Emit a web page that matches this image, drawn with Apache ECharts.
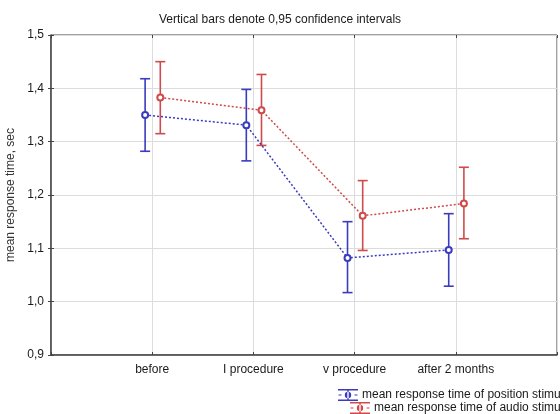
<!DOCTYPE html>
<html>
<head>
<meta charset="utf-8">
<script src="https://cdn.jsdelivr.net/npm/echarts@6/dist/echarts.min.js"></script>
<style>
html,body{margin:0;padding:0;background:#fff;}
#chart{width:560px;height:414px;}
</style>
</head>
<body>
<div id="chart"></div>
<script>
// ---- data ----
var categories = ['before', 'I procedure', 'v procedure', 'after 2 months'];
var positionMean = [1.350, 1.331, 1.082, 1.097];
var positionLow  = [1.282, 1.264, 1.017, 1.029];
var positionHigh = [1.418, 1.398, 1.150, 1.165];
var audioMean = [1.383, 1.359, 1.161, 1.184];
var audioLow  = [1.315, 1.293, 1.096, 1.118];
var audioHigh = [1.450, 1.426, 1.227, 1.252];
var yTicks = [0.9, 1.0, 1.1, 1.2, 1.3, 1.4, 1.5];
var seriesNames = ['mean response time of position stimuli', 'mean response time of audio stimuli'];

var BLUE = '#3b3bbf';
var RED = '#cf4a4a';
var FONT = '"Liberation Sans", Arial, sans-serif';
var OFF_POS = -0.07, OFF_AUD = 0.08;

function pts(means, off) {
  return means.map(function (v, i) { return [i + 1 + off, v]; });
}
function bars(lo, hi, off) {
  return lo.map(function (v, i) { return [i + 1 + off, v, hi[i]]; });
}
function errRender(color) {
  return function (params, api) {
    var x = api.value(0);
    var p1 = api.coord([x, api.value(1)]);
    var p2 = api.coord([x, api.value(2)]);
    var hw = 5;
    var st = { stroke: color, lineWidth: 1.6 };
    return {
      type: 'group',
      children: [
        { type: 'line', shape: { x1: p1[0], y1: p1[1], x2: p2[0], y2: p2[1] }, style: st },
        { type: 'line', shape: { x1: p1[0] - hw, y1: p1[1], x2: p1[0] + hw, y2: p1[1] }, style: st },
        { type: 'line', shape: { x1: p2[0] - hw, y1: p2[1], x2: p2[0] + hw, y2: p2[1] }, style: st }
      ]
    };
  };
}

var ICON = 'path://M0,0H20V1.4H0Z M0,10.6H20V12H0Z M9.3,0H10.7V12H9.3Z M0.5,5.4H3.5V6.6H0.5Z M16.5,5.4H19.5V6.6H16.5Z M6.8,6A3.2,3.2 0 1,0 13.2,6A3.2,3.2 0 1,0 6.8,6Z';

var chart = echarts.init(document.getElementById('chart'), null, { renderer: 'canvas' });
chart.setOption({
  animation: false,
  backgroundColor: '#fff',
  textStyle: { fontFamily: FONT },
  title: {
    text: 'Vertical bars denote 0,95 confidence intervals',
    left: 'center',
    top: 9,
    textStyle: { fontSize: 12, fontWeight: 'normal', color: '#1a1a1a', fontFamily: FONT }
  },
  legend: [
    {
      data: [{ name: seriesNames[0], itemStyle: { color: BLUE, borderWidth: 0 } }],
      left: 338, top: 389, icon: ICON, itemWidth: 20, itemHeight: 12, itemGap: 0,
      textStyle: { fontSize: 12, color: '#1a1a1a', fontFamily: FONT, padding: [0, 0, 0, -1] },
      padding: 0, selectedMode: false
    },
    {
      data: [{ name: seriesNames[1], itemStyle: { color: RED, borderWidth: 0 } }],
      left: 350, top: 402, icon: ICON, itemWidth: 20, itemHeight: 12, itemGap: 0,
      textStyle: { fontSize: 12, color: '#1a1a1a', fontFamily: FONT, padding: [0, 0, 0, -1] },
      padding: 0, selectedMode: false
    }
  ],
  grid: {
    left: 51, right: 3, top: 35, bottom: 59,
    outerBoundsMode: 'none', containLabel: false,
    show: true, borderColor: '#444', borderWidth: 1, backgroundColor: 'transparent'
  },
  xAxis: [{
    type: 'value', min: 0, max: 5, interval: 1,
    axisLine: { show: true, lineStyle: { color: '#444', width: 1.5 } },
    axisTick: { show: true, inside: true, length: 3, lineStyle: { color: '#444' } },
    axisLabel: {
      color: '#1a1a1a', fontSize: 12, margin: 9, fontFamily: FONT,
      formatter: function (v) { return (v >= 1 && v <= 4) ? categories[v - 1] : ''; }
    },
    splitLine: { show: true, lineStyle: { color: '#dcdcdc', width: 1 } }
  }, {
    type: 'value', min: 0, max: 5, interval: 1, position: 'top',
    axisLine: { show: false },
    axisTick: { show: true, inside: true, length: 3, lineStyle: { color: '#444' } },
    axisLabel: { show: false }, splitLine: { show: false }
  }],
  yAxis: [{
    type: 'value', min: yTicks[0], max: yTicks[yTicks.length - 1], interval: 0.1,
    name: 'mean response time, sec', nameLocation: 'middle', nameRotate: 90, nameGap: 31,
    nameTextStyle: { fontSize: 12, color: '#333', fontFamily: FONT },
    axisLine: { show: true, lineStyle: { color: '#444', width: 1.5 } },
    axisTick: { show: true, inside: true, length: 3, lineStyle: { color: '#444' } },
    axisLabel: {
      color: '#1a1a1a', fontSize: 12, margin: 7, fontFamily: FONT,
      formatter: function (v) { return v.toFixed(1).replace('.', ','); }
    },
    splitLine: { show: true, lineStyle: { color: '#dcdcdc', width: 1 } }
  }, {
    type: 'value', min: yTicks[0], max: yTicks[yTicks.length - 1], interval: 0.1, position: 'right',
    axisLine: { show: false },
    axisTick: { show: true, inside: true, length: 3, lineStyle: { color: '#444' } },
    axisLabel: { show: false }, splitLine: { show: false }
  }],
  series: [
    {
      type: 'custom', name: 'posErr', renderItem: errRender(BLUE),
      data: bars(positionLow, positionHigh, OFF_POS), z: 3, silent: true
    },
    {
      type: 'custom', name: 'audErr', renderItem: errRender(RED),
      data: bars(audioLow, audioHigh, OFF_AUD), z: 3, silent: true
    },
    {
      type: 'line', name: seriesNames[0], data: pts(positionMean, OFF_POS),
      symbol: 'emptyCircle', symbolSize: 6, z: 4,
      lineStyle: { color: BLUE, width: 1.5, type: [2, 2] },
      itemStyle: { color: BLUE, borderWidth: 1.6 }
    },
    {
      type: 'line', name: seriesNames[1], data: pts(audioMean, OFF_AUD),
      symbol: 'emptyCircle', symbolSize: 6, z: 4,
      lineStyle: { color: RED, width: 1.5, type: [2, 2] },
      itemStyle: { color: RED, borderWidth: 1.6 }
    }
  ]
});
</script>
</body>
</html>
